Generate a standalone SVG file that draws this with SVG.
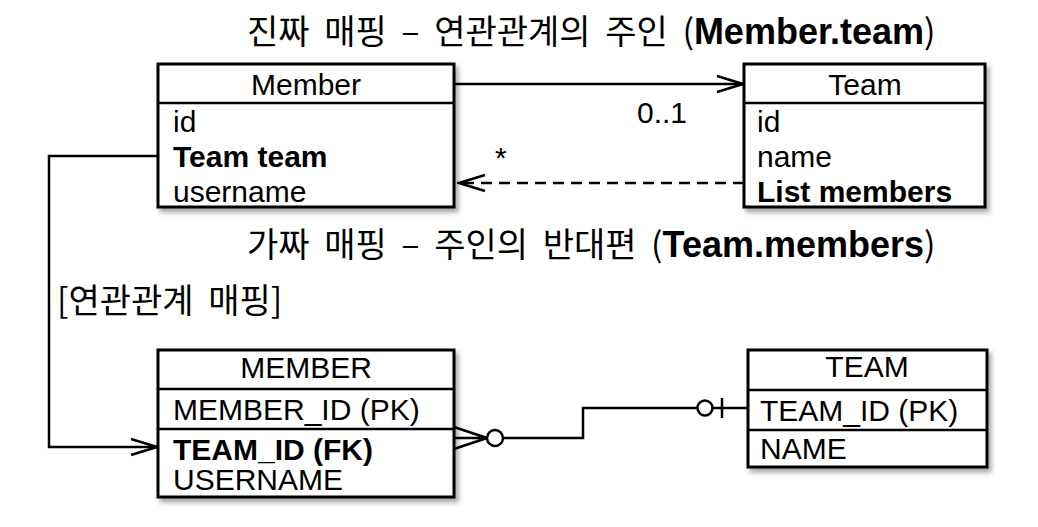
<svg xmlns="http://www.w3.org/2000/svg" width="1038" height="527" viewBox="0 0 1038 527">
<style>
text{font-family:"Liberation Sans","Noto Sans CJK KR",sans-serif;fill:#000;font-size:30px}
.t{font-family:"Noto Sans CJK KR","Liberation Sans",sans-serif;font-size:34px;word-spacing:7px}
.tl{font-family:"Liberation Sans",sans-serif;font-weight:bold;font-size:36px}
.b{font-weight:bold}
.box{fill:#fff;stroke:#000;stroke-width:3}
.ln{fill:none;stroke:#000;stroke-width:2.5}
.c{text-anchor:middle}
</style>
<defs>
<filter id="sh" x="-10%" y="-10%" width="120%" height="130%">
<feDropShadow dx="3" dy="4" stdDeviation="2.5" flood-color="#000" flood-opacity="0.35"/>
</filter>
<marker id="open" viewBox="0 0 30 20" refX="29" refY="10" markerWidth="30" markerHeight="20" markerUnits="userSpaceOnUse" orient="auto">
<path d="M2,2 L28,10 L2,18" fill="none" stroke="#000" stroke-width="2.5"/>
</marker>
</defs>

<text x="247" y="44" class="t">진짜 매핑 – 연관관계의 주인 (<tspan class="tl">Member.team</tspan>)</text>
<text x="247" y="257" class="t">가짜 매핑 – 주인의 반대편 (<tspan class="tl">Team.members</tspan>)</text>
<text x="57" y="313" class="t" font-size="35">[연관관계 매핑]</text>

<g id="connectors">
<line class="ln" x1="454" y1="84" x2="744" y2="84" marker-end="url(#open)"/>
<text x="637" y="123">0..1</text>
<line class="ln" x1="744" y1="183" x2="458" y2="183" stroke-dasharray="11,7" marker-end="url(#open)"/>
<text x="495" y="168">*</text>
<polyline class="ln" points="158,156 49,156 49,447 158,447" marker-end="url(#open)"/>
<path class="ln" d="M454,427 L487,438 M454,438 L487,438 M454,449 L487,438"/>
<circle cx="495" cy="438" r="8" fill="#fff" stroke="#000" stroke-width="2.5"/>
<polyline class="ln" points="503,438 583,438 583,408 697,408"/>
<circle cx="705" cy="408" r="7.5" fill="#fff" stroke="#000" stroke-width="2.5"/>
<line class="ln" x1="713" y1="408" x2="748" y2="408"/>
<line class="ln" x1="722" y1="398" x2="722" y2="418"/>
</g>

<g id="Member">
<rect class="box" x="158" y="64" width="296" height="143" filter="url(#sh)"/>
<line class="ln" x1="158" y1="103" x2="454" y2="103" stroke-width="3"/>
<text x="306" y="95" class="c">Member</text>
<text x="173" y="132">id</text>
<text x="173" y="167" class="b">Team team</text>
<text x="173" y="202">username</text>
</g>

<g id="Team">
<rect class="box" x="744" y="64" width="241" height="143" filter="url(#sh)"/>
<line class="ln" x1="744" y1="103" x2="985" y2="103" stroke-width="3"/>
<text x="865" y="95" class="c">Team</text>
<text x="757" y="132">id</text>
<text x="757" y="167">name</text>
<text x="757" y="202" class="b">List members</text>
</g>

<g id="MEMBER">
<rect class="box" x="158" y="350" width="296" height="147" filter="url(#sh)"/>
<line class="ln" x1="158" y1="389" x2="454" y2="389" stroke-width="3"/>
<line class="ln" x1="158" y1="429" x2="454" y2="429" stroke-width="3"/>
<text x="306" y="378" class="c">MEMBER</text>
<text x="173" y="420">MEMBER_ID (PK)</text>
<text x="173" y="460" class="b">TEAM_ID (FK)</text>
<text x="173" y="490">USERNAME</text>
</g>

<g id="TEAM">
<rect class="box" x="748" y="350" width="239" height="117" filter="url(#sh)"/>
<line class="ln" x1="748" y1="390" x2="987" y2="390" stroke-width="3"/>
<line class="ln" x1="748" y1="430" x2="987" y2="430" stroke-width="3"/>
<text x="867" y="377" class="c">TEAM</text>
<text x="760" y="421">TEAM_ID (PK)</text>
<text x="760" y="459">NAME</text>
</g>
</svg>
